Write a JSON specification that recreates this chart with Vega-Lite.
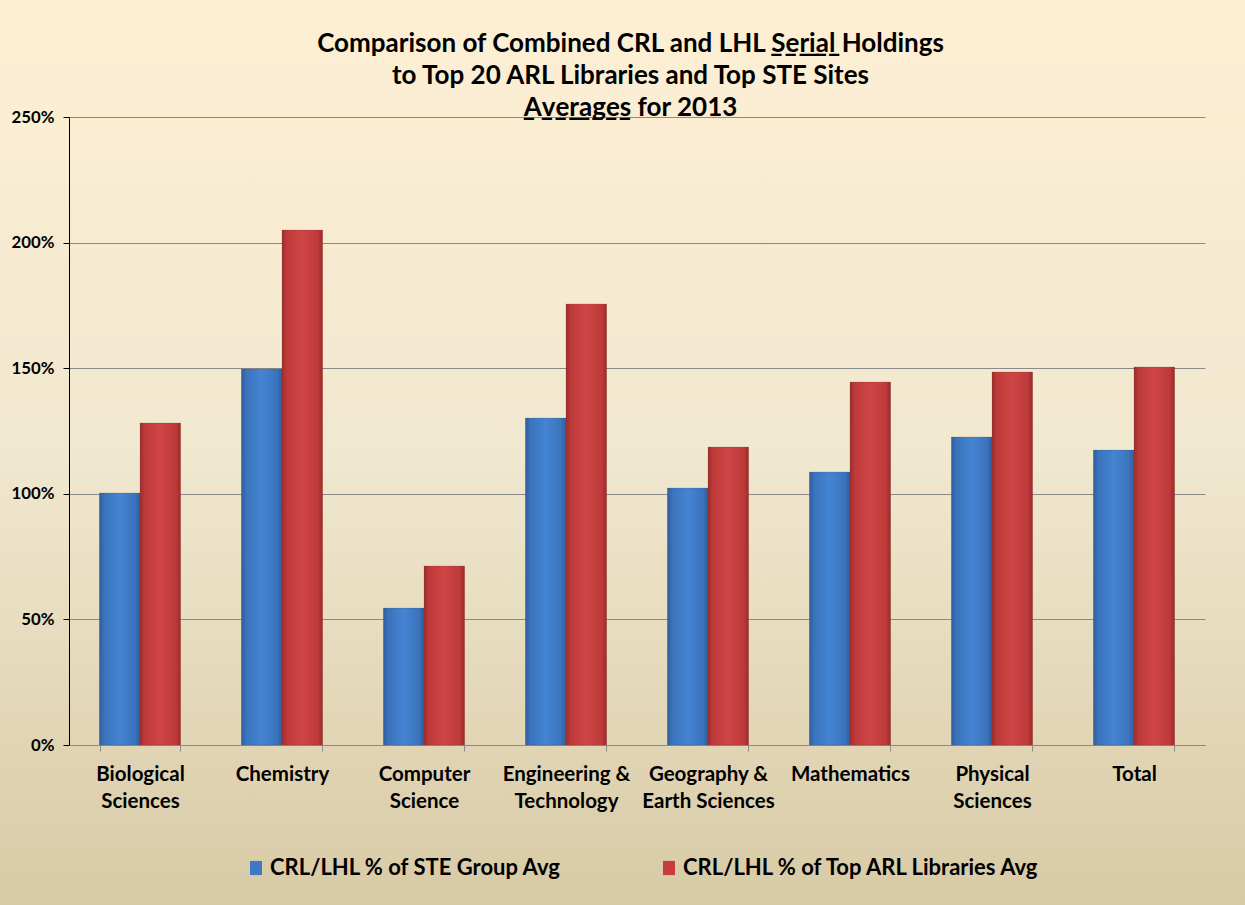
{
  "$schema": "https://vega.github.io/schema/vega-lite/v6.json",
  "width": 1245,
  "height": 905,
  "autosize": {"type": "none"},
  "padding": 0,
  "background": "#EFE4C8",
  "title": {
    "text": ["Comparison of Combined CRL and LHL  ̲S̲e̲r̲i̲a̲l Holdings", "to Top 20 ARL Libraries and Top STE Sites", "̲A̲v̲e̲r̲a̲g̲e̲s for 2013"],
    "font": "Lato",
    "fontSize": 26,
    "fontWeight": "bold",
    "lineHeight": 32,
    "color": "#000000",
    "offset": -121,
    "dx": 8,
    "anchor": "middle"
  },
  "data": {
    "values": [
      {"category": "Biological Sciences", "series": "CRL/LHL % of STE Group Avg", "value": 1.003},
      {"category": "Biological Sciences", "series": "CRL/LHL % of Top ARL Libraries Avg", "value": 1.282},
      {"category": "Chemistry", "series": "CRL/LHL % of STE Group Avg", "value": 1.497},
      {"category": "Chemistry", "series": "CRL/LHL % of Top ARL Libraries Avg", "value": 2.05},
      {"category": "Computer Science", "series": "CRL/LHL % of STE Group Avg", "value": 0.545},
      {"category": "Computer Science", "series": "CRL/LHL % of Top ARL Libraries Avg", "value": 0.713},
      {"category": "Engineering & Technology", "series": "CRL/LHL % of STE Group Avg", "value": 1.302},
      {"category": "Engineering & Technology", "series": "CRL/LHL % of Top ARL Libraries Avg", "value": 1.756},
      {"category": "Geography & Earth Sciences", "series": "CRL/LHL % of STE Group Avg", "value": 1.023},
      {"category": "Geography & Earth Sciences", "series": "CRL/LHL % of Top ARL Libraries Avg", "value": 1.186},
      {"category": "Mathematics", "series": "CRL/LHL % of STE Group Avg", "value": 1.087},
      {"category": "Mathematics", "series": "CRL/LHL % of Top ARL Libraries Avg", "value": 1.445},
      {"category": "Physical Sciences", "series": "CRL/LHL % of STE Group Avg", "value": 1.226},
      {"category": "Physical Sciences", "series": "CRL/LHL % of Top ARL Libraries Avg", "value": 1.485},
      {"category": "Total", "series": "CRL/LHL % of STE Group Avg", "value": 1.174},
      {"category": "Total", "series": "CRL/LHL % of Top ARL Libraries Avg", "value": 1.505}
    ]
  },
  "encoding": {
    "x": {
      "field": "category",
      "type": "nominal",
      "sort": null,
      "scale": {"range": [69, 1205], "paddingInner": 0.43, "paddingOuter": 0.215},
      "axis": {
        "title": null,
        "offset": -160,
        "labelAngle": 0,
        "labelFont": "Lato",
        "labelFontSize": 20.5,
        "labelFontWeight": "bold",
        "labelColor": "#000000",
        "labelPadding": 13,
        "labelLineHeight": 27,
        "labelExpr": "isValid(datum.value) ? split(replace(datum.value, regexp('(&|Biological|Computer|Physical) '), '$1|'), '|') : ''",
        "domainColor": "#8a8a8a",
        "tickColor": "#8a8a8a",
        "tickBand": "extent",
        "tickSize": 6,
        "grid": false
      }
    },
    "xOffset": {"field": "series", "type": "nominal", "scale": {"paddingInner": 0, "paddingOuter": 0}},
    "y": {
      "field": "value",
      "type": "quantitative",
      "scale": {"domain": [0, 2.5], "nice": false, "range": [745, 117]},
      "axis": {
        "title": null,
        "offset": -69,
        "values": [0, 0.5, 1, 1.5, 2, 2.5],
        "format": ".0%",
        "labelFont": "Lato",
        "labelFontSize": 16.8,
        "labelFontWeight": "bold",
        "labelColor": "#000000",
        "labelPadding": 9,
        "domainColor": "#000000",
        "tickColor": "#000000",
        "tickSize": 6,
        "gridColor": "#8a8a8a",
        "gridWidth": 1
      }
    }
  },
  "layer": [
    {
      "mark": {"type": "bar"},
      "encoding": {
        "color": {
          "field": "series",
          "type": "nominal",
          "scale": {"range": ["#3E78C4", "#C83C3C"]},
          "legend": {
            "title": null,
            "orient": "none",
            "direction": "horizontal",
            "legendX": 245,
            "legendY": 857,
            "symbolType": "M-0.85,-1H0.85V1H-0.85Z",
            "symbolSize": 200,
            "symbolStrokeWidth": 0,
            "symbolOpacity": 1,
            "labelFont": "Lato",
            "labelFontSize": 22,
            "labelFontWeight": "bold",
            "labelColor": "#000000",
            "labelLimit": 500,
            "labelOffset": 3,
            "columnPadding": 96
          }
        }
      }
    },
    {
      "mark": {"type": "bar", "stroke": "#5a4a3a", "strokeOpacity": 0.3, "strokeWidth": 0.6},
      "encoding": {
        "fill": {
          "condition": {
            "test": "datum.series === 'CRL/LHL % of STE Group Avg'",
            "value": {
              "gradient": "linear", "x1": 0, "y1": 0, "x2": 1, "y2": 0,
              "stops": [
                {"offset": 0, "color": "#2E5E9E"},
                {"offset": 0.12, "color": "#3B73BC"},
                {"offset": 0.5, "color": "#4484D2"},
                {"offset": 0.88, "color": "#3B73BC"},
                {"offset": 1, "color": "#2E5E9E"}
              ]
            }
          },
          "value": {
            "gradient": "linear", "x1": 0, "y1": 0, "x2": 1, "y2": 0,
            "stops": [
              {"offset": 0, "color": "#9E2C2C"},
              {"offset": 0.12, "color": "#BE3A3A"},
              {"offset": 0.5, "color": "#D04545"},
              {"offset": 0.88, "color": "#BE3A3A"},
              {"offset": 1, "color": "#9E2C2C"}
            ]
          }
        }
      }
    }
  ],
  "config": {
    "view": {
      "stroke": null,
      "fill": {
        "gradient": "linear", "x1": 0, "y1": 0, "x2": 0, "y2": 1,
        "stops": [
          {"offset": 0, "color": "#FEEFD4"},
          {"offset": 0.5, "color": "#F0E8CF"},
          {"offset": 1, "color": "#D8CAA6"}
        ]
      }
    },
    "axis": {"domainWidth": 1}
  }
}
